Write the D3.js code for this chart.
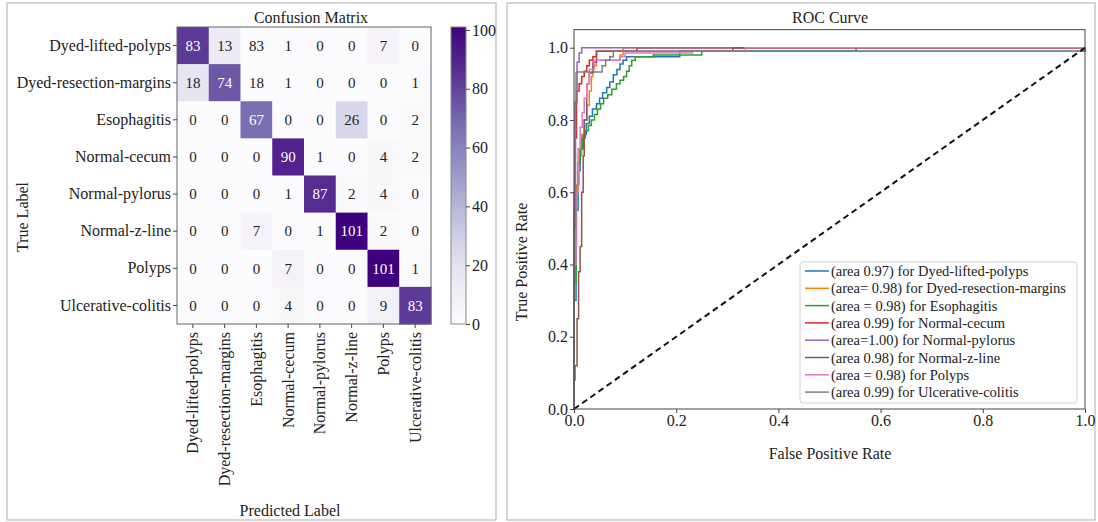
<!DOCTYPE html>
<html>
<head>
<meta charset="utf-8">
<script src="https://cdn.jsdelivr.net/npm/d3@7"></script>
<style>
  body { margin: 0; background: #fff; }
  svg { display: block; }
  svg text { font-family: "Liberation Serif", "Times New Roman", serif !important; fill: #222; }
</style>
</head>
<body>
<div id="chart"></div>
<script>
"use strict"

const classNames = ["Dyed-lifted-polyps", "Dyed-resection-margins", "Esophagitis",
  "Normal-cecum", "Normal-pylorus", "Normal-z-line", "Polyps", "Ulcerative-colitis"];

// numbers printed in the cells
const counts = [
  [83, 13, 83, 1, 0, 0, 7, 0],
  [18, 74, 18, 1, 0, 0, 0, 1],
  [0, 0, 67, 0, 0, 26, 0, 2],
  [0, 0, 0, 90, 1, 0, 4, 2],
  [0, 0, 0, 1, 87, 2, 4, 0],
  [0, 0, 7, 0, 1, 101, 2, 0],
  [0, 0, 0, 7, 0, 0, 101, 1],
  [0, 0, 0, 4, 0, 0, 9, 83],
];

// cell colour as it appears (two cells in column 3 are shaded white)
const shade = [
  [83, 13, 0, 1, 0, 0, 7, 0],
  [18, 74, 0, 1, 0, 0, 0, 1],
  [0, 0, 67, 0, 0, 26, 0, 2],
  [0, 0, 0, 90, 1, 0, 4, 2],
  [0, 0, 0, 1, 87, 2, 4, 0],
  [0, 0, 7, 0, 1, 101, 2, 0],
  [0, 0, 0, 7, 0, 0, 101, 1],
  [0, 0, 0, 4, 0, 0, 9, 83],
];

const colorbarTicks = [0, 20, 40, 60, 80, 100];
const rocTicks = [0.0, 0.2, 0.4, 0.6, 0.8, 1.0];

const legendLabels = [
  "(area 0.97) for Dyed-lifted-polyps",
  "(area= 0.98) for Dyed-resection-margins",
  "(area = 0.98) for Esophagitis",
  "(area 0.99) for Normal-cecum",
  "(area=1.00) for Normal-pylorus",
  "(area 0.98) for Normal-z-line",
  "(area = 0.98) for Polyps",
  "(area 0.99) for Ulcerative-colitis",
];

// ROC points (fpr, tpr)
const fprDyedLifted = [0, 0, 0.004, 0.008, 0.012, 0.018, 0.024, 0.03, 0.036, 0.044, 0.05, 0.056, 0.064, 0.07, 0.077, 0.084, 0.09, 0.096, 0.103, 0.207, 0.552, 1];
const tprDyedLifted = [0, 0.3, 0.55, 0.66, 0.72, 0.76, 0.79, 0.81, 0.83, 0.845, 0.86, 0.875, 0.89, 0.905, 0.925, 0.94, 0.955, 0.965, 0.975, 0.99, 1.0, 1.0];

const fprDyedResection = [0, 0, 0.005, 0.01, 0.015, 0.02, 0.025, 0.03, 0.034, 0.037, 0.044, 0.09, 0.096, 1];
const tprDyedResection = [0, 0.45, 0.62, 0.7, 0.76, 0.8, 0.84, 0.88, 0.92, 0.95, 0.965, 0.98, 1.0, 1.0];

const fprEsophagitis = [0, 0, 0.004, 0.008, 0.012, 0.016, 0.022, 0.028, 0.034, 0.04, 0.046, 0.052, 0.058, 0.066, 0.074, 0.083, 0.09, 0.097, 0.103, 0.108, 0.113, 0.12, 0.155, 0.25, 1];
const tprEsophagitis = [0, 0.35, 0.6, 0.68, 0.72, 0.75, 0.77, 0.785, 0.8, 0.815, 0.83, 0.845, 0.86, 0.87, 0.885, 0.9, 0.91, 0.92, 0.935, 0.95, 0.965, 0.975, 0.98, 0.99, 1.0];

const fprNormalCecum = [0, 0, 0.002, 0.005, 0.01, 0.015, 0.02, 0.025, 0.03, 0.037, 0.044, 0.123, 1];
const tprNormalCecum = [0, 0.55, 0.75, 0.88, 0.9, 0.92, 0.935, 0.95, 0.965, 0.975, 0.99, 1.0, 1.0];

const fprNormalPylorus = [0, 0, 0.002, 0.004, 0.006, 0.01, 0.015, 1];
const tprNormalPylorus = [0, 0.6, 0.85, 0.93, 0.96, 0.985, 1.0, 1.0];

const fprNormalZLine = [0, 0, 0.002, 0.006, 0.009, 0.012, 0.015, 0.018, 0.02, 0.025, 0.03, 0.037, 0.044, 0.15, 0.311, 1];
const tprNormalZLine = [0, 0.08, 0.12, 0.25, 0.38, 0.45, 0.6, 0.7, 0.8, 0.9, 0.93, 0.96, 0.99, 0.99, 1.0, 1.0];

const fprPolyps = [0, 0, 0.004, 0.008, 0.012, 0.016, 0.02, 0.025, 0.03, 0.04, 0.09, 0.1, 0.232, 0.335, 1];
const tprPolyps = [0, 0.4, 0.6, 0.72, 0.78, 0.82, 0.86, 0.9, 0.94, 0.965, 0.975, 0.985, 0.99, 1.0, 1.0];

const fprUlcerative = [0, 0, 0.003, 0.006, 0.051, 0.055, 0.062, 0.07, 0.077, 1];
const tprUlcerative = [0, 0.5, 0.85, 0.933, 0.933, 0.95, 0.965, 0.975, 0.99, 1.0];

const rocFpr = [fprDyedLifted, fprDyedResection, fprEsophagitis, fprNormalCecum,
  fprNormalPylorus, fprNormalZLine, fprPolyps, fprUlcerative];
const rocTpr = [tprDyedLifted, tprDyedResection, tprEsophagitis, tprNormalCecum,
  tprNormalPylorus, tprNormalZLine, tprPolyps, tprUlcerative];


const W = 1098, H = 522;
const FONT = '"Liberation Serif", "Times New Roman", serif';
const svg = d3.select('#chart').append('svg').attr('width', W).attr('height', H)
  .attr('font-family', FONT);

// panel frames
svg.append('rect').attr('x', 7).attr('y', 3).attr('width', 489).attr('height', 517)
  .attr('fill', 'none').attr('stroke', '#bbb').attr('stroke-width', 1.2);
svg.append('rect').attr('x', 507).attr('y', 3).attr('width', 588).attr('height', 517)
  .attr('fill', 'none').attr('stroke', '#bbb').attr('stroke-width', 1.2);


function styleAxis(a) {
  a.attr('font-family', FONT).attr('font-size', 16);
  a.select('.domain').remove();
  a.selectAll('line').attr('stroke', '#444');
  a.selectAll('text').style('font-family', FONT).style('font-size', '16px').attr('fill', '#222');
}


function drawConfusion() {
  let idx = d3.range(classNames.length);
  let x = d3.scaleBand().domain(idx).range([177, 431]);
  let y = d3.scaleBand().domain(idx).range([27, 324]);
  let vmax = 101;
  let color = d3.scaleSequential(d3.interpolatePurples).domain([0, vmax]);

  let cells = [];
  counts.forEach((row, r) => row.forEach((v, c) => cells.push({r, c, v, s: shade[r][c]})));

  let g = svg.append('g');

  // Draw cells
  (g.selectAll('rect.cell')
      .data(cells)
    .enter()
      .append('rect')
        .attr('class', 'cell')
        .attr('x', (d) => x(d.c))
        .attr('y', (d) => y(d.r))
        .attr('width', x.bandwidth() + 0.5)
        .attr('height', y.bandwidth() + 0.5)
        .attr('fill', (d) => color(d.s))
  );

  // Draw cell numbers
  (g.selectAll('text.num')
      .data(cells)
    .enter()
      .append('text')
        .attr('x', (d) => x(d.c) + x.bandwidth() / 2)
        .attr('y', (d) => y(d.r) + y.bandwidth() / 2)
        .attr('dy', '0.35em')
        .attr('text-anchor', 'middle')
        .style('font-size', '15px')
        .style('fill', (d) => d.s > vmax / 2 ? '#fff' : '#222')
        .text((d) => d.v)
  );

  g.append('rect').attr('x', 177).attr('y', 27).attr('width', 254).attr('height', 297)
    .attr('fill', 'none').attr('stroke', '#666').attr('stroke-width', 1);

  // Row labels
  let ay = g.append('g').attr('transform', 'translate(177,0)')
    .call(d3.axisLeft(y).tickSize(4).tickPadding(2).tickFormat((i) => classNames[i]));
  styleAxis(ay);

  // Column labels
  let ax = g.append('g').attr('transform', 'translate(0,324)')
    .call(d3.axisBottom(x).tickSize(4).tickFormat((i) => classNames[i]));
  styleAxis(ax);
  (ax.selectAll('text')
    .attr('transform', 'rotate(-90)')
    .attr('text-anchor', 'end')
    .attr('x', -8)
    .attr('y', 0)
    .attr('dy', '0.35em'));

  g.append('text').attr('x', 311).attr('y', 17).attr('dy', '0.35em')
    .attr('text-anchor', 'middle').style('font-size', '16px').text('Confusion Matrix');
  g.append('text').attr('x', 290).attr('y', 510).attr('dy', '0.35em')
    .attr('text-anchor', 'middle').style('font-size', '16px').text('Predicted Label');
  g.append('text').attr('transform', 'translate(22,217) rotate(-90)').attr('dy', '0.35em')
    .attr('text-anchor', 'middle').style('font-size', '16px').text('True Label');

  // Colorbar
  let cb = d3.scaleLinear().domain([0, vmax]).range([324, 27]);
  let grad = svg.append('defs').append('linearGradient').attr('id', 'cbgrad')
    .attr('x1', 0).attr('y1', 1).attr('x2', 0).attr('y2', 0);
  d3.range(0, 1.0001, 0.05).forEach((t) => {
    grad.append('stop').attr('offset', t).attr('stop-color', d3.interpolatePurples(t));
  });
  g.append('rect').attr('x', 451).attr('y', 27).attr('width', 15).attr('height', 297)
    .attr('fill', 'url(#cbgrad)').attr('stroke', '#888').attr('stroke-width', 1);
  let ac = g.append('g').attr('transform', 'translate(466,0)')
    .call(d3.axisRight(cb).tickValues(colorbarTicks).tickSize(4).tickPadding(2));
  styleAxis(ac);
}


function drawRoc() {
  let x = d3.scaleLinear().domain([0, 1]).range([574, 1085]);
  let y = d3.scaleLinear().domain([0, 1.05]).range([409, 409 - 1.05 * 361.3]);
  let palette = d3.schemeCategory10;
  let g = svg.append('g');

  // Draw curves
  let line = d3.line().x((d) => x(d[0])).y((d) => y(d[1])).curve(d3.curveStepAfter);
  (g.selectAll('path.roc')
      .data(d3.range(rocFpr.length))
    .enter()
      .append('path')
        .attr('fill', 'none')
        .attr('stroke', (i) => palette[i])
        .attr('stroke-width', 1.5)
        .attr('d', (i) => line(d3.zip(rocFpr[i], rocTpr[i])))
  );

  // Chance line
  g.append('path')
    .attr('d', d3.line().x((d) => x(d)).y((d) => y(d))([0, 1]))
    .attr('stroke', '#111').attr('stroke-width', 2).attr('stroke-dasharray', '6,4');

  g.append('rect').attr('x', 574).attr('y', y(1.05)).attr('width', 511).attr('height', 409 - y(1.05))
    .attr('fill', 'none').attr('stroke', '#444').attr('stroke-width', 1);

  let ax = g.append('g').attr('transform', 'translate(0,409)')
    .call(d3.axisBottom(x).tickValues(rocTicks).tickFormat(d3.format('.1f')).tickSize(4).tickPadding(2));
  let ay = g.append('g').attr('transform', 'translate(574,0)')
    .call(d3.axisLeft(y).tickValues(rocTicks).tickFormat(d3.format('.1f')).tickSize(4).tickPadding(2));
  styleAxis(ax);
  styleAxis(ay);

  g.append('text').attr('x', 830).attr('y', 17).attr('dy', '0.35em')
    .attr('text-anchor', 'middle').style('font-size', '16px').text('ROC Curve');
  g.append('text').attr('x', 830).attr('y', 453).attr('dy', '0.35em')
    .attr('text-anchor', 'middle').style('font-size', '16px').text('False Positive Rate');
  g.append('text').attr('transform', 'translate(521,262) rotate(-90)').attr('dy', '0.35em')
    .attr('text-anchor', 'middle').style('font-size', '16px').text('True Positive Rate');

  // Legend
  let lg = g.append('g');
  lg.append('rect').attr('x', 800).attr('y', 262).attr('width', 277).attr('height', 141)
    .attr('rx', 3).attr('fill', '#fff').attr('fill-opacity', 0.85)
    .attr('stroke', '#d0d0d0').attr('stroke-width', 1);
  let rows = (lg.selectAll('g.row')
      .data(legendLabels)
    .enter()
      .append('g')
        .attr('transform', (d, i) => `translate(0,${271 + i * 17.3})`));
  rows.append('line').attr('x1', 805).attr('x2', 829)
    .attr('stroke', (d, i) => palette[i]).attr('stroke-width', 1.5);
  rows.append('text').attr('x', 831).attr('dy', '0.35em')
    .style('font-size', '14.5px').text((d) => d);
}

drawConfusion();
drawRoc();
</script>
</body>
</html>
